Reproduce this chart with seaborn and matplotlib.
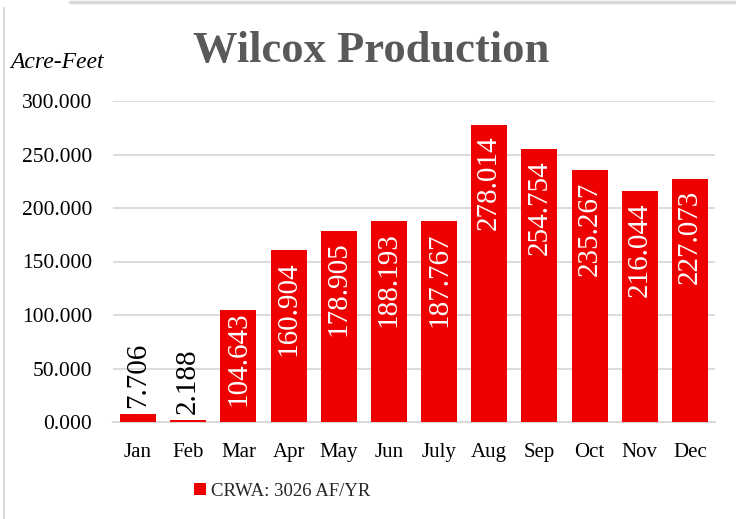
import matplotlib
matplotlib.use("Agg")
import matplotlib.pyplot as plt
import seaborn as sns
from matplotlib.lines import Line2D
from matplotlib.ticker import MultipleLocator, StrMethodFormatter

# ------------------------
# Data
# ------------------------
months = ["Jan", "Feb", "Mar", "Apr", "May", "Jun", "July", "Aug", "Sep", "Oct", "Nov", "Dec"]
acre_feet = [7.706, 2.188, 104.643, 160.904, 178.905, 188.193, 187.767, 278.014, 254.754, 235.267, 216.044, 227.073]
series_label = "CRWA: 3026 AF/YR"
title = "Wilcox Production"
y_label = "Acre-Feet"

bar_red = "#EE0000"
grid_grey = "#D9D9D9"
serif = "Liberation Serif"

# ------------------------
# Figure
# ------------------------
sns.set_style("white")
plt.rcParams["font.family"] = [serif, "DejaVu Serif"]

fig = plt.figure(figsize=(7.36, 5.19), dpi=100)
ax = fig.add_axes([113 / 736, 1 - 422 / 519, 602 / 736, 321 / 519])

sns.barplot(x=months, y=acre_feet, color=bar_red, saturation=1, width=0.72,
            label=series_label, ax=ax, zorder=3, edgecolor=bar_red, linewidth=0)

ax.set_ylim(0, 300)
ax.set_xlim(-0.5, 11.5)
ax.yaxis.set_major_locator(MultipleLocator(50))
ax.yaxis.set_major_formatter(StrMethodFormatter("{x:.3f}"))
ax.grid(axis="y", color=grid_grey, linewidth=1.3)
ax.set_axisbelow(True)
for side in ["top", "right", "left"]:
    ax.spines[side].set_visible(False)
ax.spines["bottom"].set_color(grid_grey)
ax.spines["bottom"].set_linewidth(1.5)
ax.spines["bottom"].set_zorder(1)
ax.tick_params(axis="both", length=0, colors="black")
ax.tick_params(axis="y", pad=15, labelsize=15.5)
ax.tick_params(axis="x", pad=15, labelsize=15)
ax.set_xlabel("")
ax.set_ylabel("")

# value labels: inside the bar top in white, above short bars in black
px_per_unit = 321 / 300
for patch, val in zip(ax.patches, acre_feet):
    cx = patch.get_x() + patch.get_width() / 2
    h = patch.get_height()
    if val < 50:
        ax.annotate(f"{val:.3f}", (cx, h), xytext=(0, 4), textcoords="offset points",
                    rotation=90, ha="center", va="bottom", fontsize=21, color="black",
                    zorder=4)
    else:
        # short bars get their label pushed up to the top edge
        pad = -8 if h * px_per_unit > 130 else -1
        ax.annotate(f"{val:.3f}", (cx, h), xytext=(0, pad), textcoords="offset points",
                    rotation=90, ha="center", va="top", fontsize=21, color="white",
                    zorder=4)

# title and axis caption
fig.text(371 / 736, 1 - 62 / 519, title, ha="center", va="baseline",
         fontsize=32, fontweight="bold", color="#595959")
fig.text(10 / 736, 1 - 68 / 519, y_label, ha="left", va="baseline",
         fontsize=17, fontstyle="italic", color="black")

# legend
ax.legend(loc="center", bbox_to_anchor=(282 / 736, 1 - 491 / 519),
          bbox_transform=fig.transFigure, frameon=False, fontsize=13.5,
          handlelength=0.65, handleheight=0.65, handletextpad=0.25)

# chart frame remnants
fig.add_artist(Line2D([70 / 736, 1], [1 - 1.5 / 519, 1 - 1.5 / 519],
                      transform=fig.transFigure, color=grid_grey, linewidth=2.5))
fig.add_artist(Line2D([4 / 736, 4 / 736], [0, 1 - 8 / 519],
                      transform=fig.transFigure, color=grid_grey, linewidth=1.5))

fig.savefig("out.png", dpi=100)
